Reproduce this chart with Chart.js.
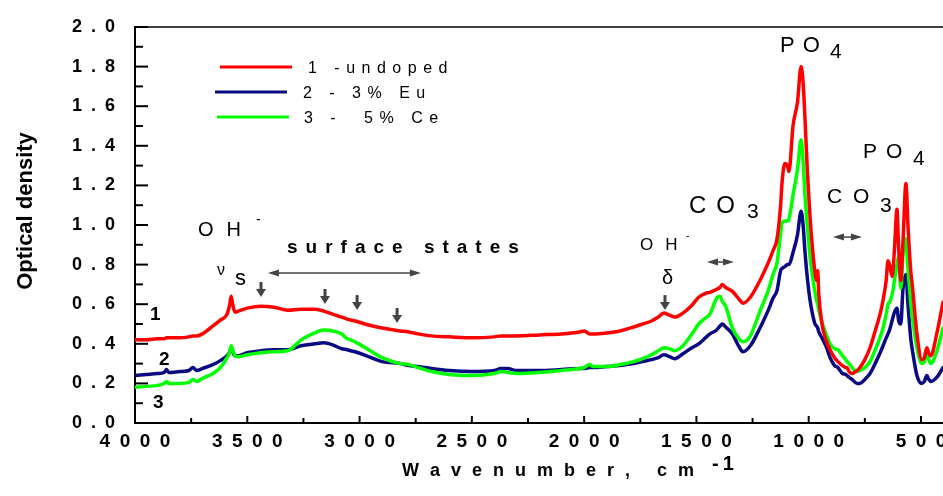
<!DOCTYPE html>
<html>
<head>
<meta charset="utf-8">
<script src="https://cdn.jsdelivr.net/npm/chart.js@4.4.0/dist/chart.umd.min.js"></script>
<style>
  html, body { margin: 0; padding: 0; background: #fff; overflow: hidden; }
  #wrap { width: 943px; height: 496px; position: relative; }
</style>
</head>
<body>
<div id="wrap"><canvas id="myChart"></canvas></div>
<script>
"use strict";

// Data
const wavenumbers = [4000, 3950, 3900, 3870, 3860, 3850, 3800, 3760, 3742, 3725, 3700, 3653, 3620, 3590, 3578, 3572, 3565, 3555, 3540, 3500, 3440, 3380, 3320, 3260, 3200, 3160, 3120, 3080, 3055, 3040, 3020, 2960, 2900, 2820, 2780, 2740, 2680, 2600, 2500, 2400, 2370, 2340, 2300, 2200, 2100, 2020, 2000, 1975, 1960, 1900, 1840, 1780, 1740, 1700, 1670, 1645, 1620, 1596, 1560, 1520, 1490, 1460, 1440, 1410, 1395, 1385, 1370, 1340, 1310, 1293, 1260, 1217, 1180, 1159, 1141, 1125, 1119, 1106, 1095, 1088, 1070, 1050, 1034, 1025, 1017, 1005, 994, 983, 972, 965, 960, 955, 941, 920, 905, 885, 870, 850, 835, 830, 820, 807, 785, 772, 750, 727, 700, 680, 669, 655, 647, 640, 628, 618, 607, 600, 590, 580, 567, 558, 545, 540, 518, 496, 485, 474, 465, 456, 430, 402];
const odUndoped = [0.42, 0.42, 0.425, 0.425, 0.43, 0.43, 0.43, 0.435, 0.44, 0.44, 0.45, 0.49, 0.52, 0.55, 0.60, 0.64, 0.60, 0.56, 0.565, 0.58, 0.59, 0.585, 0.57, 0.575, 0.575, 0.565, 0.55, 0.535, 0.525, 0.52, 0.515, 0.495, 0.48, 0.465, 0.46, 0.45, 0.44, 0.435, 0.43, 0.435, 0.44, 0.44, 0.44, 0.445, 0.45, 0.46, 0.465, 0.45, 0.45, 0.455, 0.465, 0.485, 0.50, 0.515, 0.535, 0.555, 0.545, 0.535, 0.555, 0.595, 0.635, 0.655, 0.66, 0.675, 0.685, 0.70, 0.685, 0.665, 0.625, 0.605, 0.635, 0.72, 0.81, 0.87, 0.93, 1.10, 1.21, 1.31, 1.30, 1.27, 1.50, 1.62, 1.80, 1.72, 1.55, 1.25, 1.04, 0.88, 0.76, 0.72, 0.77, 0.65, 0.50, 0.41, 0.37, 0.33, 0.31, 0.29, 0.28, 0.28, 0.26, 0.25, 0.265, 0.28, 0.32, 0.38, 0.48, 0.56, 0.62, 0.72, 0.82, 0.80, 0.74, 0.88, 1.08, 0.90, 0.72, 0.92, 1.21, 1.00, 0.76, 0.71, 0.45, 0.32, 0.33, 0.38, 0.35, 0.34, 0.45, 0.61];
const odEu = [0.24, 0.245, 0.25, 0.255, 0.27, 0.255, 0.26, 0.265, 0.28, 0.265, 0.275, 0.295, 0.315, 0.34, 0.36, 0.38, 0.36, 0.34, 0.34, 0.355, 0.365, 0.37, 0.37, 0.39, 0.40, 0.405, 0.395, 0.375, 0.37, 0.365, 0.36, 0.335, 0.31, 0.30, 0.29, 0.285, 0.275, 0.265, 0.26, 0.265, 0.275, 0.275, 0.265, 0.265, 0.27, 0.275, 0.275, 0.28, 0.28, 0.285, 0.29, 0.30, 0.31, 0.32, 0.33, 0.345, 0.335, 0.325, 0.35, 0.38, 0.40, 0.43, 0.45, 0.47, 0.49, 0.50, 0.485, 0.45, 0.385, 0.36, 0.39, 0.48, 0.57, 0.63, 0.67, 0.77, 0.78, 0.79, 0.80, 0.80, 0.86, 0.95, 1.07, 1.00, 0.87, 0.72, 0.62, 0.55, 0.50, 0.49, 0.48, 0.46, 0.43, 0.38, 0.33, 0.29, 0.28, 0.25, 0.245, 0.24, 0.23, 0.22, 0.20, 0.20, 0.22, 0.25, 0.31, 0.36, 0.39, 0.43, 0.45, 0.47, 0.52, 0.56, 0.58, 0.52, 0.50, 0.68, 0.75, 0.60, 0.42, 0.38, 0.24, 0.20, 0.21, 0.24, 0.22, 0.21, 0.23, 0.28];
const odCe = [0.18, 0.185, 0.19, 0.20, 0.21, 0.20, 0.20, 0.205, 0.22, 0.21, 0.225, 0.25, 0.28, 0.33, 0.36, 0.39, 0.37, 0.34, 0.335, 0.345, 0.355, 0.36, 0.365, 0.42, 0.455, 0.47, 0.465, 0.45, 0.425, 0.42, 0.41, 0.37, 0.33, 0.30, 0.295, 0.28, 0.26, 0.245, 0.24, 0.25, 0.26, 0.255, 0.25, 0.255, 0.265, 0.275, 0.28, 0.295, 0.285, 0.285, 0.295, 0.31, 0.325, 0.345, 0.365, 0.38, 0.375, 0.365, 0.39, 0.45, 0.50, 0.53, 0.55, 0.63, 0.64, 0.615, 0.59, 0.48, 0.425, 0.41, 0.44, 0.565, 0.67, 0.75, 0.81, 0.96, 1.01, 1.02, 1.02, 1.03, 1.15, 1.28, 1.43, 1.32, 1.16, 0.98, 0.84, 0.74, 0.66, 0.62, 0.60, 0.57, 0.51, 0.44, 0.40, 0.375, 0.37, 0.34, 0.32, 0.31, 0.30, 0.28, 0.26, 0.265, 0.28, 0.31, 0.38, 0.44, 0.48, 0.55, 0.60, 0.61, 0.65, 0.72, 0.80, 0.84, 0.68, 0.85, 0.93, 0.78, 0.60, 0.55, 0.38, 0.30, 0.31, 0.35, 0.32, 0.30, 0.36, 0.48];

const seriesNames = ["1 -undoped", "2 - 3% Eu", "3 -  5% Ce"];
const xTickValues = [4000, 3500, 3000, 2500, 2000, 1500, 1000, 500];
const yTickValues = [0, 0.2, 0.4, 0.6, 0.8, 1.0, 1.2, 1.4, 1.6, 1.8, 2.0];

const FONT = "'Liberation Sans', Arial, sans-serif";
const colors = ["#ff0000", "#0a0a82", "#00ff00"];

const toPoints = (arr) => arr.map((v, i) => ({ x: wavenumbers[i], y: v }));
const spaced = (s) => String(s).split("").join("\u2002");

// draw text one char at a time with extra letter spacing
function spacedText(ctx, text, x, y, ls) {
  let cx = x;
  for (const ch of text) {
    ctx.fillText(ch, cx, y);
    cx += ctx.measureText(ch).width + ls;
  }
}

function line(ctx, x1, y1, x2, y2) {
  ctx.beginPath();
  ctx.moveTo(x1, y1);
  ctx.lineTo(x2, y2);
  ctx.stroke();
}

// Frame and inward tick marks
const frameTicks = {
  id: "frameTicks",
  afterDraw(chart) {
    const { ctx, chartArea: a, scales } = chart;
    const x = scales.x, y = scales.y;
    ctx.save();
    ctx.strokeStyle = "#000";
    ctx.lineWidth = 1.5;
    line(ctx, a.left, a.top, a.right + 5, a.top);
    ctx.lineWidth = 2;
    yTickValues.forEach((v) => {
      const py = y.getPixelForValue(v);
      line(ctx, a.left, py, a.left + 13, py);
      if (v < 2) {
        const pm = y.getPixelForValue(v + 0.1);
        line(ctx, a.left, pm, a.left + 8, pm);
      }
    });
    xTickValues.forEach((v) => {
      const px = x.getPixelForValue(v);
      line(ctx, px, a.bottom, px, a.bottom - 7);
      if (v - 250 >= x.min) {
        const pm = x.getPixelForValue(v - 250);
        line(ctx, pm, a.bottom, pm, a.bottom - 5);
      }
    });
    ctx.restore();
  },
};

// Labels, arrows, legend and axis titles
const notes = [
  { t: "OH", f: "20px", wn: 3720, od: 0.944, ls: 13 },
  { t: "-", f: "14px", wn: 3461, od: 1.005, ls: 0 },
  { t: "surface states", f: "bold 19px", wn: 3323, od: 0.859, ls: 8 },
  { t: "\u03bd", f: "16px", wn: 3635, od: 0.747, ls: 0 },
  { t: "s", f: "22px", wn: 3555, od: 0.697, ls: 0 },
  { t: "OH", f: "17px", wn: 1751, od: 0.874, ls: 12 },
  { t: "-", f: "10px", wn: 1546, od: 0.929, ls: 0 },
  { t: "\u03b4", f: "20px", wn: 1653, od: 0.702, ls: 0 },
  { t: "CO", f: "24px", wn: 1533, od: 1.061, ls: 10 },
  { t: "3", f: "21px", wn: 1275, od: 1.035, ls: 0 },
  { t: "PO", f: "22px", wn: 1128, od: 1.874, ls: 8 },
  { t: "4", f: "21px", wn: 905, od: 1.843, ls: 0 },
  { t: "PO", f: "21px", wn: 758, od: 1.338, ls: 9 },
  { t: "4", f: "21px", wn: 536, od: 1.303, ls: 0 },
  { t: "CO", f: "21px", wn: 919, od: 1.111, ls: 11 },
  { t: "3", f: "21px", wn: 683, od: 1.066, ls: 0 },
  { t: "1", f: "bold 19px", wn: 3933, od: 0.52, ls: 0 },
  { t: "2", f: "bold 19px", wn: 3893, od: 0.293, ls: 0 },
  { t: "3", f: "bold 19px", wn: 3920, od: 0.076, ls: 0 },
];
const downArrows = [[3439, 0.712], [3154, 0.677], [3011, 0.646], [2833, 0.581], [1640, 0.646]];
const bothArrows = [[3408, 2727, 0.758], [1453, 1333, 0.813], [892, 763, 0.939]];

const annotations = {
  id: "annotations",
  afterDraw(chart) {
    const { ctx, scales } = chart;
    const x = scales.x, y = scales.y;
    ctx.save();
    ctx.fillStyle = "#000";
    ctx.textBaseline = "alphabetic";
    ctx.textAlign = "left";
    notes.forEach((n) => {
      ctx.font = n.f + " " + FONT;
      spacedText(ctx, n.t, x.getPixelForValue(n.wn), y.getPixelForValue(n.od), n.ls);
    });

    ctx.fillStyle = "#444";
    ctx.strokeStyle = "#444";
    downArrows.forEach(([wn, od]) => {
      const px = x.getPixelForValue(wn), py = y.getPixelForValue(od);
      ctx.lineWidth = 3;
      line(ctx, px, py, px, py + 8);
      ctx.beginPath();
      ctx.moveTo(px - 5, py + 7);
      ctx.lineTo(px + 5, py + 7);
      ctx.lineTo(px, py + 15);
      ctx.closePath();
      ctx.fill();
    });
    bothArrows.forEach(([w1, w2, od]) => {
      const x1 = x.getPixelForValue(w1), x2 = x.getPixelForValue(w2), py = y.getPixelForValue(od);
      ctx.lineWidth = 1.5;
      line(ctx, x1 + 6, py, x2 - 6, py);
      ctx.beginPath();
      ctx.moveTo(x1, py); ctx.lineTo(x1 + 11, py - 3.5); ctx.lineTo(x1 + 11, py + 3.5);
      ctx.closePath(); ctx.fill();
      ctx.beginPath();
      ctx.moveTo(x2, py); ctx.lineTo(x2 - 11, py - 3.5); ctx.lineTo(x2 - 11, py + 3.5);
      ctx.closePath(); ctx.fill();
    });

    // legend
    const rows = [[220, 67, 308], [215, 92, 303], [217, 117, 304]];
    chart.data.datasets.forEach((ds, i) => {
      const [lx, ly, tx] = rows[i];
      ctx.strokeStyle = ds.borderColor;
      ctx.lineWidth = 3;
      line(ctx, lx, ly, lx + 72, ly);
      ctx.fillStyle = "#000";
      ctx.font = "16px " + FONT;
      spacedText(ctx, ds.label, tx, ly + 6, 6.5);
    });

    // axis titles
    ctx.fillStyle = "#000";
    ctx.font = "bold 18px " + FONT;
    spacedText(ctx, "Wavenumber, cm", 402, 476, 11);
    ctx.font = "bold 20px " + FONT;
    spacedText(ctx, "-1", 712, 470, 4);

    ctx.translate(32, 211);
    ctx.rotate(-Math.PI / 2);
    ctx.textAlign = "center";
    ctx.font = "bold 22px " + FONT;
    ctx.fillText("Optical density", 0, 0);
    ctx.restore();
  },
};

const ctx = document.getElementById("myChart").getContext("2d");

const myChart = new Chart(ctx, {
  type: "line",
  data: {
    datasets: [odUndoped, odEu, odCe].map((arr, i) => ({
      label: seriesNames[i],
      data: toPoints(arr),
      borderColor: colors[i],
      borderWidth: 3.5,
      pointRadius: 0,
      cubicInterpolationMode: "monotone",
      borderJoinStyle: "round",
      borderCapStyle: "round",
      order: [0, 2, 1][i],
    })),
  },
  options: {
    responsive: true,
    maintainAspectRatio: false,
    animation: false,
    events: [],
    layout: { autoPadding: false, padding: { top: 27, right: 0, bottom: 0, left: 0 } },
    scales: {
      x: {
        type: "linear",
        reverse: true,
        min: 402,
        max: 4000,
        afterFit: (s) => { s.height = 73; s.paddingLeft = 0; s.paddingRight = 0; },
        afterBuildTicks: (s) => { s.ticks = xTickValues.map((v) => ({ value: v })); },
        grid: { display: false, drawTicks: false },
        border: { display: true, color: "#000", width: 2 },
        ticks: {
          color: "#000",
          font: { family: FONT, size: 19, weight: "bold" },
          padding: 7,
          maxRotation: 0,
          autoSkip: false,
          callback: (v) => spaced(v),
        },
      },
      y: {
        min: 0,
        max: 2.0,
        afterFit: (s) => { s.width = 135; s.paddingTop = 0; s.paddingBottom = 0; },
        afterBuildTicks: (s) => { s.ticks = yTickValues.map((v) => ({ value: v })); },
        grid: { display: false, drawTicks: false },
        border: { display: true, color: "#000", width: 2 },
        ticks: {
          color: "#000",
          font: { family: FONT, size: 18, weight: "bold" },
          padding: 20,
          callback: (v) => spaced(v.toFixed(1)),
        },
      },
    },
    plugins: {
      legend: { display: false },
      tooltip: { enabled: false },
    },
  },
  plugins: [frameTicks, annotations],
});
</script>
</body>
</html>
